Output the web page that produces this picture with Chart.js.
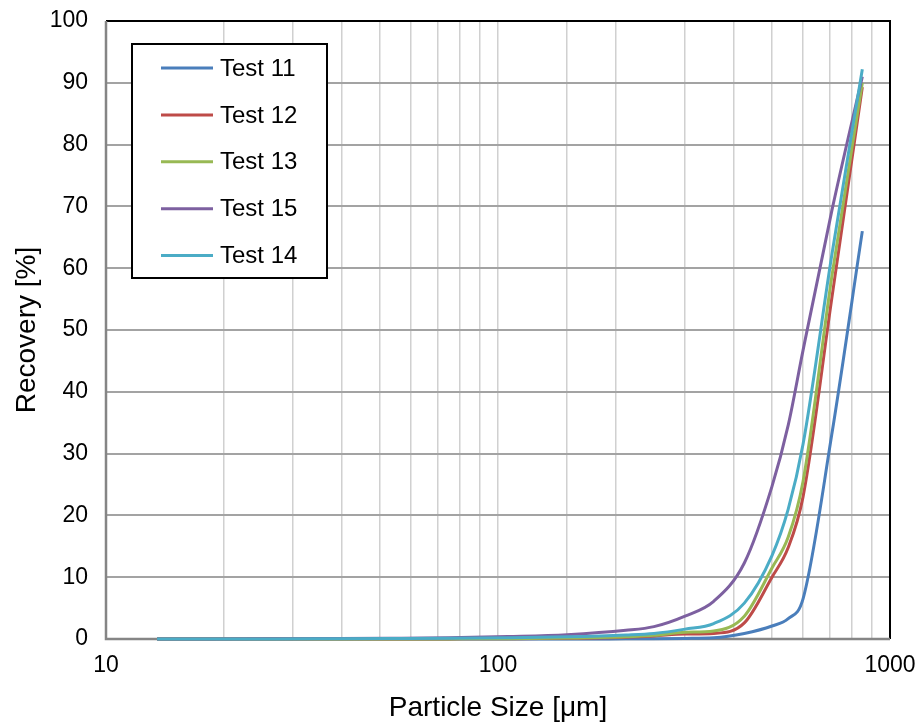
<!DOCTYPE html>
<html><head><meta charset="utf-8">
<script src="https://cdn.jsdelivr.net/npm/chart.js@4.4.0/dist/chart.umd.min.js"></script>
<style>html,body{margin:0;padding:0;background:#fff}#wrap{width:921px;height:727px}</style>
</head><body><div id="wrap"><canvas id="c" width="921" height="727"></canvas></div>
<script>
// ---- data ----
const particleSizes = [13.5, 19, 27, 38, 53, 75, 106, 150, 212, 250, 300, 355, 425, 500, 550, 600, 710, 850];
const test11 = [0, 0, 0, 0, 0, 0, 0, 0, 0.03, 0.05, 0.1, 0.2, 0.9, 2.1, 3.3, 6.5, 33, 66];
const test12 = [0, 0, 0, 0, 0, 0.02, 0.05, 0.12, 0.3, 0.5, 0.8, 0.9, 2.6, 10, 14.8, 23, 55, 89.3];
const test13 = [0, 0, 0, 0, 0, 0.02, 0.05, 0.15, 0.35, 0.6, 1.1, 1.3, 3.7, 11.5, 16.5, 25.5, 58.5, 90];
const test15 = [0, 0.02, 0.05, 0.08, 0.12, 0.2, 0.4, 0.7, 1.4, 2.0, 3.7, 6.1, 12.3, 24.7, 34.6, 46.7, 69.2, 91];
const test14 = [0, 0, 0.02, 0.05, 0.08, 0.12, 0.2, 0.35, 0.65, 0.9, 1.6, 2.5, 5.8, 13.5, 21, 31.5, 62, 92.2];
const seriesNames = ['Test 11', 'Test 12', 'Test 13', 'Test 15', 'Test 14'];
const seriesValues = [test11, test12, test13, test15, test14];
const seriesColors = ['#4A7EBB', '#BE4B48', '#98B954', '#7D60A0', '#4BACC6'];
const xTickLabels = [10, 100, 1000];
const yMin = 0, yMax = 100, yStep = 10;

const FONT = '"Liberation Sans", Arial, sans-serif';

const datasets = seriesNames.map((name, i) => ({
  label: name,
  data: particleSizes.map((x, k) => ({x: x, y: seriesValues[i][k]})),
  borderColor: seriesColors[i],
  backgroundColor: seriesColors[i],
  borderWidth: 3,
  pointRadius: 0,
  fill: false,
  cubicInterpolationMode: 'monotone',
  clip: 4,
  order: seriesNames.length - i
}));

const framePlugin = {
  id: 'frame',
  beforeDatasetsDraw(chart) {
    const {ctx, chartArea: a} = chart;
    ctx.save();
    ctx.lineWidth = 2;
    ctx.strokeStyle = '#000';
    ctx.beginPath();
    ctx.moveTo(a.left, a.top); ctx.lineTo(a.right, a.top); ctx.lineTo(a.right, a.bottom);
    ctx.stroke();
    ctx.strokeStyle = '#858585';
    ctx.lineWidth = 2.5;
    ctx.beginPath();
    ctx.moveTo(a.left, a.top); ctx.lineTo(a.left, a.bottom); ctx.lineTo(a.right, a.bottom);
    ctx.stroke();
    ctx.restore();
  },
  afterDraw(chart) {
    const ctx = chart.ctx;
    const bx = 132, by = 44, bw = 195, bh = 234;
    ctx.save();
    ctx.fillStyle = '#fff';
    ctx.fillRect(bx, by, bw, bh);
    ctx.lineWidth = 2;
    ctx.strokeStyle = '#000';
    ctx.strokeRect(bx, by, bw, bh);
    ctx.font = '24px ' + FONT;
    ctx.textBaseline = 'middle';
    ctx.fillStyle = '#000';
    chart.data.datasets.forEach((ds, i) => {
      const y = by + 24 + i * 46.9;
      ctx.strokeStyle = ds.borderColor;
      ctx.lineWidth = 3;
      ctx.beginPath();
      ctx.moveTo(161, y); ctx.lineTo(213, y);
      ctx.stroke();
      ctx.fillText(ds.label, 220, y + 1);
    });
    ctx.restore();
  }
};

new Chart(document.getElementById('c'), {
  type: 'line',
  data: {datasets},
  options: {
    responsive: false,
    animation: false,
    devicePixelRatio: 1,
    layout: {padding: {left: 0, right: 31, top: 21, bottom: 0}},
    plugins: {legend: {display: false}, tooltip: {enabled: false}},
    scales: {
      x: {
        type: 'logarithmic',
        position: 'bottom',
        min: 10, max: 1000,
        grid: {color: '#d0d0d0', lineWidth: 1.5, drawTicks: false},
        border: {display: false},
        ticks: {
          autoSkip: false, maxRotation: 0, padding: 13, color: '#000',
          font: {size: 23, family: FONT},
          callback: (v) => xTickLabels.includes(v) ? String(v) : ''
        },
        title: {display: true, text: 'Particle Size [μm]', color: '#000',
          font: {size: 28, family: FONT}, padding: {top: 0, bottom: 2}},
        afterFit(s) { s.height = 88; s.paddingLeft = 0; s.paddingRight = 0; }
      },
      y: {
        min: yMin, max: yMax,
        grid: {color: '#a3a3a3', lineWidth: 2, drawTicks: false},
        border: {display: false},
        ticks: {stepSize: yStep, padding: 18, color: '#000', font: {size: 23, family: FONT}},
        title: {display: true, text: 'Recovery [%]', color: '#000',
          font: {size: 28, family: FONT}, padding: {top: 10, bottom: 0}},
        afterFit(s) { s.width = 106; s.paddingTop = 0; s.paddingBottom = 0; }
      }
    }
  },
  plugins: [framePlugin]
});
</script>
</body></html>
